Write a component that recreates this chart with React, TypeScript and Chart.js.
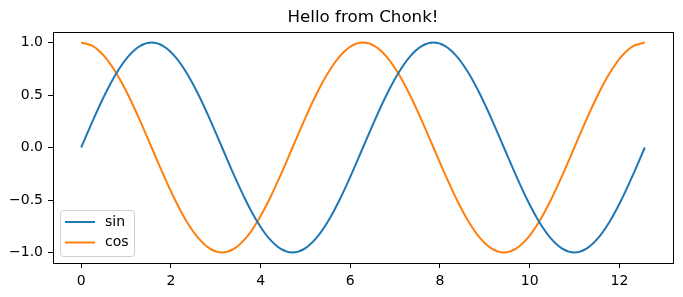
import React, { useEffect, useRef } from "react";
import { Chart, registerables } from "chart.js";

Chart.register(...registerables);

const title = "Hello from Chonk!";
const xValues = [
  0, 0.262, 0.524, 0.785, 1.047, 1.309, 1.571, 1.833, 2.094, 2.356, 2.618, 2.88, 3.142,
  3.403, 3.665, 3.927, 4.189, 4.451, 4.712, 4.974, 5.236, 5.498, 5.76, 6.021, 6.283,
  6.545, 6.807, 7.069, 7.33, 7.592, 7.854, 8.116, 8.378, 8.639, 8.901, 9.163, 9.425,
  9.687, 9.948, 10.21, 10.472, 10.734, 10.996, 11.257, 11.519, 11.781, 12.043, 12.305, 12.566,
];
const sinValues = [
  0, 0.259, 0.5, 0.707, 0.866, 0.966, 1, 0.966, 0.866, 0.707, 0.5, 0.259, 0,
  -0.259, -0.5, -0.707, -0.866, -0.966, -1, -0.966, -0.866, -0.707, -0.5, -0.259, 0,
  0.259, 0.5, 0.707, 0.866, 0.966, 1, 0.966, 0.866, 0.707, 0.5, 0.259, 0,
  -0.259, -0.5, -0.707, -0.866, -0.966, -1, -0.966, -0.866, -0.707, -0.5, -0.259, 0,
];
const cosValues = [
  1, 0.966, 0.866, 0.707, 0.5, 0.259, 0, -0.259, -0.5, -0.707, -0.866, -0.966, -1,
  -0.966, -0.866, -0.707, -0.5, -0.259, 0, 0.259, 0.5, 0.707, 0.866, 0.966, 1,
  0.966, 0.866, 0.707, 0.5, 0.259, 0, -0.259, -0.5, -0.707, -0.866, -0.966, -1,
  -0.966, -0.866, -0.707, -0.5, -0.259, 0, 0.259, 0.5, 0.707, 0.866, 0.966, 1,
];
const xTicks = [0, 2, 4, 6, 8, 10, 12];
const yTicks = [-1, -0.5, 0, 0.5, 1];
const seriesNames = ["sin", "cos"];
const seriesColors = ["#1f77b4", "#ff7f0e"];

const FONT = "'DejaVu Sans', sans-serif";

const framePlugin = {
  id: "frame",
  afterDraw(chart: any) {
    const { ctx, chartArea: a } = chart;
    ctx.save();
    ctx.strokeStyle = "#000";
    ctx.lineWidth = 1;
    ctx.strokeRect(Math.round(a.left) + 0.5, Math.round(a.top) + 0.5, Math.round(a.right - a.left), Math.round(a.bottom - a.top));
    // title
    ctx.fillStyle = "#000";
    ctx.font = `16.7px ${FONT}`;
    ctx.textAlign = "center";
    ctx.textBaseline = "middle";
    ctx.fillText(title, (a.left + a.right) / 2, 17.5);
    // legend
    const lx = a.left + 7, ly = a.bottom - 53, lw = 74, lh = 46;
    ctx.beginPath();
    (ctx as any).roundRect(lx + 0.5, ly + 0.5, lw, lh, 3);
    ctx.fillStyle = "rgba(255,255,255,0.8)";
    ctx.fill();
    ctx.strokeStyle = "#d0d0d0";
    ctx.lineWidth = 1;
    ctx.stroke();
    ctx.font = `14px ${FONT}`;
    ctx.textAlign = "left";
    seriesNames.forEach((n, i) => {
      const y = ly + 12 + i * 20.5;
      ctx.beginPath();
      ctx.moveTo(lx + 5, y);
      ctx.lineTo(lx + 35, y);
      ctx.strokeStyle = seriesColors[i];
      ctx.lineWidth = 2;
      ctx.stroke();
      ctx.fillStyle = "#000";
      ctx.fillText(n, lx + 45, y);
    });
    ctx.restore();
  },
};

const fmt = (v: number) => v.toFixed(1).replace("-", "\u2212");

export default function App() {
  const ref = useRef<HTMLCanvasElement>(null);
  useEffect(() => {
    const chart = new Chart(ref.current!, {
      type: "line",
      data: {
        datasets: [sinValues, cosValues].map((vals, i) => ({
          label: seriesNames[i],
          data: vals.map((y, j) => ({ x: xValues[j], y })),
          borderColor: seriesColors[i],
          borderWidth: 2,
          pointRadius: 0,
          cubicInterpolationMode: "monotone" as const,
          fill: false,
        })),
      },
      options: {
        animation: false,
        responsive: false,
        layout: { padding: { top: 32, right: 10, left: 0, bottom: 0 } },
        plugins: { legend: { display: false }, title: { display: false }, tooltip: { enabled: false } },
        scales: {
          x: {
            type: "linear",
            min: -0.628,
            max: 13.195,
            afterBuildTicks: (s: any) => { s.ticks = xTicks.map((v) => ({ value: v })); },
            afterFit: (s: any) => { s.height = 34; },
            grid: { drawOnChartArea: false, drawTicks: true, tickLength: 5, color: "#000", tickWidth: 1 },
            border: { display: false },
            ticks: { color: "#000", font: { family: FONT, size: 14 }, padding: 5, maxRotation: 0, callback: (v: any) => String(v) },
          },
          y: {
            type: "linear",
            min: -1.1,
            max: 1.1,
            afterBuildTicks: (s: any) => { s.ticks = yTicks.map((v) => ({ value: v })); },
            afterFit: (s: any) => { s.width = 53; },
            grid: { drawOnChartArea: false, drawTicks: true, tickLength: 5, color: "#000", tickWidth: 1 },
            border: { display: false },
            ticks: { color: "#000", font: { family: FONT, size: 14 }, padding: 5, callback: (v: any) => fmt(Number(v)) },
          },
        },
      },
      plugins: [framePlugin],
    });
    return () => chart.destroy();
  }, []);
  return (
    <div style={{ position: "fixed", left: 0, top: 0, width: 683, height: 297, background: "#fff" }}>
      <canvas ref={ref} width={683} height={297} style={{ width: 683, height: 297 }} />
    </div>
  );
}
